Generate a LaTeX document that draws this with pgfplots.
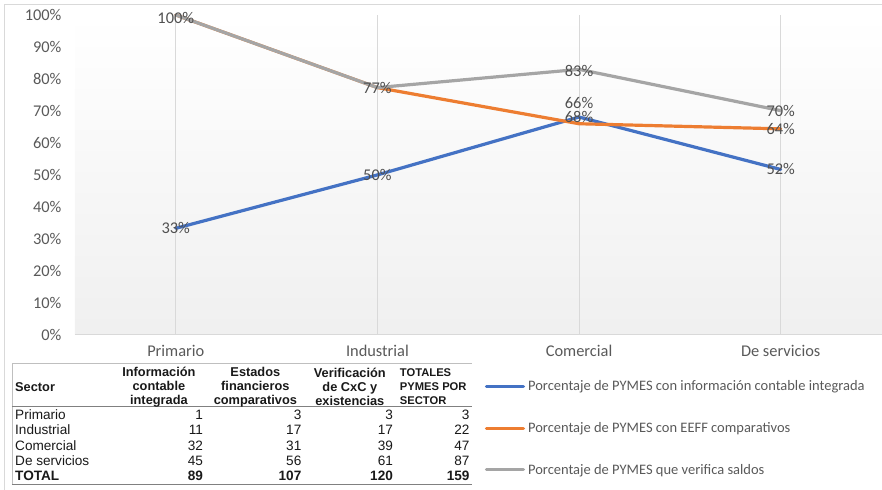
\documentclass[border=0pt]{standalone}
\usepackage{fontspec}
\setmainfont{Carlito}
\newfontfamily\tabfont{Liberation Sans}
\usepackage{pgfplots}
\pgfplotsset{compat=1.18}
\usepackage{pgfplotstable}

\definecolor{serblue}{HTML}{4472C4}
\definecolor{serorange}{HTML}{ED7D31}
\definecolor{sergray}{HTML}{A5A5A5}
\definecolor{txt}{HTML}{595959}
\definecolor{lbl}{HTML}{505050}
\definecolor{gridc}{HTML}{D9D9D9}

% x = category position, y = percent, dy = label nudge (pt), op = label shown
\pgfplotstableread{
x   y     dy  op
0.5 33.3  0   1
1.5 50.0  0   1
2.5 68.1  0   1
3.5 51.7  0   1
}\infodata
\pgfplotstableread{
x   y     dy  op
0.5 100   -3  0
1.5 77.3  0   0
2.5 66.0  21  1
3.5 64.4  0   1
}\eeffdata
\pgfplotstableread{
x   y     dy  op
0.5 100   -3  1
1.5 77.3  0   1
2.5 83.0  -2  1
3.5 70.1  0   1
}\saldosdata

\begin{document}
\begin{tikzpicture}
  \begin{scope}[x=1pt,y=-1pt]
    \useasboundingbox (0,0) rectangle (882,490);
    \draw[gridc,line width=1.5pt] (4.5,490) -- (4.5,4.5) -- (882,4.5);
  \end{scope}

  \begin{axis}[
    at={(75pt,-335pt)}, anchor=south west,
    scale only axis, width=807pt, height=320pt,
    xmin=0, xmax=4, ymin=0, ymax=100,
    clip=false,
    axis lines*=left,
    y axis line style={draw=none},
    x axis line style={gridc,line width=1pt},
    major tick length=0pt,
    axis background/.style={shade,top color=white,bottom color=black!6},
    xtick={0.5,1.5,2.5,3.5},
    xticklabels={Primario,Industrial,Comercial,De servicios},
    xmajorgrids, grid style={gridc,line width=1pt},
    ytick={0,10,...,100},
    yticklabel={\pgfmathprintnumber{\tick}\%},
    /pgf/number format/assume math mode=true,
    tick label style={font=\fontsize{16.4}{18}\selectfont,text=txt},
    yticklabel style={xshift=-10pt},
    xticklabel style={yshift=-7pt},
    every axis plot/.append style={line width=3.2pt,line join=round,line cap=round},
    nodes near coords={\pgfmathprintnumber[fixed,precision=0]{\pgfplotspointmeta}\%},
    point meta=y,
    visualization depends on={\thisrow{dy} \as \labdy},
    visualization depends on={\thisrow{op} \as \labop},
    every node near coord/.append style={anchor=center,yshift=\labdy pt,
      text opacity=\labop,font=\fontsize{16.4}{18}\selectfont,text=lbl},
    legend style={at={(0.508,-0.134)},anchor=north west,draw=none,fill=none,
      font=\fontsize{14.5}{16}\selectfont,text=txt,row sep=24pt,
      inner sep=0pt,nodes={inner sep=3pt}},
    legend cell align=left,
    legend image code/.code={\draw[#1] (0pt,0pt) -- (37pt,0pt);},
  ]
    \addplot[serblue] table[x=x,y=y] {\infodata};
    \addlegendentry{Porcentaje de PYMES con información contable integrada}
    \addplot[serorange] table[x=x,y=y] {\eeffdata};
    \addlegendentry{Porcentaje de PYMES con EEFF comparativos}
    \addplot[sergray] table[x=x,y=y] {\saldosdata};
    \addlegendentry{Porcentaje de PYMES que verifica saldos}
  \end{axis}

  % data table below the chart
  \begin{scope}[x=1pt,y=-1pt,tabfont/.style={font=\tabfont\fontsize{13.6}{15}\selectfont},
      headfont/.style={font=\tabfont\bfseries\fontsize{12.8}{15}\selectfont,align=center},
      every node/.style={inner sep=0pt,text=black!90}]
    \draw[black!25,line width=0.8pt] (12,485) -- (12,364) -- (472,364);
    \draw[black!50,line width=0.8pt] (12,406.5) -- (472,406.5);
    \draw[black!50,line width=0.8pt] (12,485) -- (472,485);

    \node[headfont,anchor=west] at (15,387) {Sector};
    \node[headfont] at (159,387) {Información\\[-1pt]contable\\[-1pt]integrada};
    \node[headfont] at (255.5,387) {Estados\\[-1pt]financieros\\[-1pt]comparativos};
    \node[headfont] at (350,387) {Verificación\\[-1pt]de CxC y\\[-1pt]existencias};
    \node[font=\tabfont\bfseries\fontsize{11.2}{15}\selectfont,align=left,anchor=west]
      at (400,387) {TOTALES\\[-1pt]PYMES POR\\[-1pt]SECTOR};

    \foreach \name/\a/\b/\c/\d [count=\i] in
        {Primario/1/3/3/3, Industrial/11/17/17/22, Comercial/32/31/39/47,
         De servicios/45/56/61/87} {
      \pgfmathsetmacro{\yy}{415+15.3*(\i-1)}
      \node[tabfont,anchor=west] at (15,\yy) {\name};
      \node[tabfont,anchor=east] at (203.3,\yy) {\a};
      \node[tabfont,anchor=east] at (301.7,\yy) {\b};
      \node[tabfont,anchor=east] at (393.3,\yy) {\c};
      \node[tabfont,anchor=east] at (470,\yy) {\d};
    }
    \node[tabfont,font=\tabfont\bfseries\fontsize{13.6}{15}\selectfont,anchor=west] at (15,476) {TOTAL};
    \node[tabfont,font=\tabfont\bfseries\fontsize{13.6}{15}\selectfont,anchor=east] at (203.3,476) {89};
    \node[tabfont,font=\tabfont\bfseries\fontsize{13.6}{15}\selectfont,anchor=east] at (301.7,476) {107};
    \node[tabfont,font=\tabfont\bfseries\fontsize{13.6}{15}\selectfont,anchor=east] at (393.3,476) {120};
    \node[tabfont,font=\tabfont\bfseries\fontsize{13.6}{15}\selectfont,anchor=east] at (470,476) {159};
  \end{scope}
\end{tikzpicture}
\end{document}
